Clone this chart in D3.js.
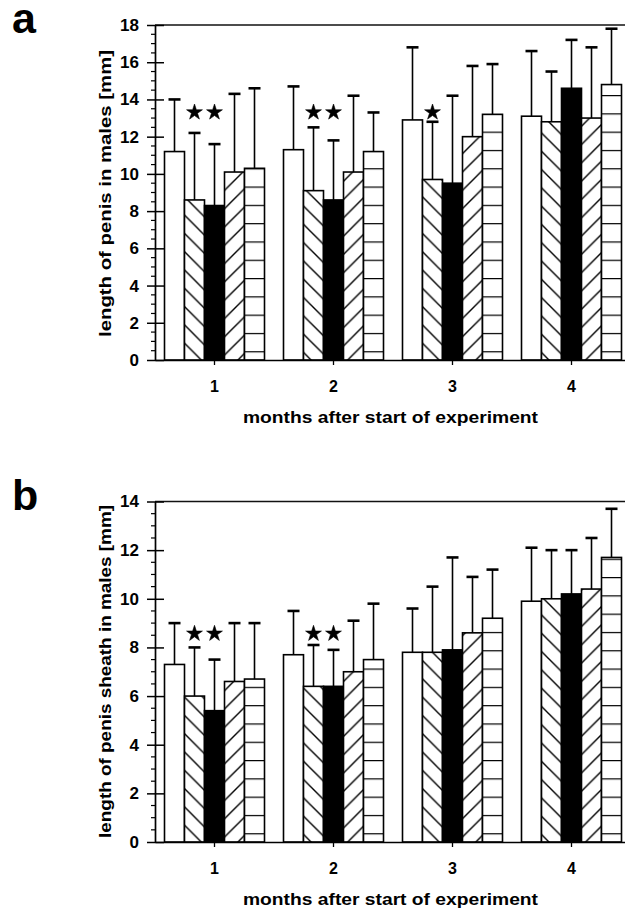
<!DOCTYPE html>
<html>
<head>
<meta charset="utf-8">
<script src="https://cdn.jsdelivr.net/npm/d3@7"></script>
<style>
  html, body { margin: 0; padding: 0; background: #fff; }
  svg { display: block; }
  text { font-family: "Liberation Sans", Arial, Helvetica, sans-serif; font-weight: bold; fill: #000; }
</style>
</head>
<body>
<svg id="chart" width="625" height="911"></svg>
<script>
// Months after start of experiment and the five treatment groups
const months = ["1", "2", "3", "4"];
const groups = ["A", "B", "C", "D", "E"];

// (a) penis length [mm]: group means and standard deviations per month
const penisMean = [
  [11.2, 8.6, 8.3, 10.1, 10.3],
  [11.3, 9.1, 8.6, 10.1, 11.2],
  [12.9, 9.7, 9.5, 12.0, 13.2],
  [13.1, 12.8, 14.6, 13.0, 14.8]
];
const penisSD = [
  [2.8, 3.6, 3.3, 4.2, 4.3],
  [3.4, 3.4, 3.2, 4.1, 2.1],
  [3.9, 3.1, 4.7, 3.8, 2.7],
  [3.5, 2.7, 2.6, 3.8, 3.0]
];
const penisTicks = [0, 2, 4, 6, 8, 10, 12, 14, 16, 18];
// significant differences (month, group) and the level the stars sit at
const penisStars = [["1", "B"], ["1", "C"], ["2", "B"], ["2", "C"], ["3", "B"]];
const penisStarLevel = 13.35;

// (b) penis sheath length [mm]
const sheathMean = [
  [7.3, 6.0, 5.4, 6.6, 6.7],
  [7.7, 6.4, 6.4, 7.0, 7.5],
  [7.8, 7.8, 7.9, 8.6, 9.2],
  [9.9, 10.0, 10.2, 10.4, 11.7]
];
const sheathSD = [
  [1.7, 2.0, 2.1, 2.4, 2.3],
  [1.8, 1.7, 1.5, 2.1, 2.3],
  [1.8, 2.7, 3.8, 2.3, 2.0],
  [2.2, 2.0, 1.8, 2.1, 2.0]
];
const sheathTicks = [0, 2, 4, 6, 8, 10, 12, 14];
const sheathStars = [["1", "B"], ["1", "C"], ["2", "B"], ["2", "C"]];
const sheathStarLevel = 8.6;

const svg = d3.select("#chart");
const defs = svg.append("defs");

// fill style for each group
const fillKind = { A: "white", B: "back", C: "black", D: "fwd", E: "horiz" };

function makePatterns(id, baseY) {
  const s = 18.3;
  const back = defs.append("pattern").attr("id", "back-" + id)
    .attr("patternUnits", "userSpaceOnUse").attr("width", s).attr("height", s)
    .attr("x", 0).attr("y", baseY % s);
  back.append("rect").attr("width", s).attr("height", s).attr("fill", "#fff");
  back.append("path")
    .attr("d", `M-1,-1L${s + 1},${s + 1}M-1,${s - 1}L1,${s + 1}M${s - 1},-1L${s + 1},1`)
    .attr("stroke", "#000").attr("stroke-width", 1.4);

  const fwd = defs.append("pattern").attr("id", "fwd-" + id)
    .attr("patternUnits", "userSpaceOnUse").attr("width", s).attr("height", s)
    .attr("x", 0).attr("y", baseY % s);
  fwd.append("rect").attr("width", s).attr("height", s).attr("fill", "#fff");
  fwd.append("path")
    .attr("d", `M-1,${s + 1}L${s + 1},-1M-1,1L1,-1M${s - 1},${s + 1}L${s + 1},${s - 1}`)
    .attr("stroke", "#000").attr("stroke-width", 1.4);

  const hz = defs.append("pattern").attr("id", "horiz-" + id)
    .attr("patternUnits", "userSpaceOnUse").attr("width", 40).attr("height", s)
    .attr("x", 0).attr("y", (baseY - 8.8) % s);
  hz.append("rect").attr("width", 40).attr("height", s).attr("fill", "#fff");
  hz.append("line").attr("x1", 0).attr("x2", 40).attr("y1", 0.6).attr("y2", 0.6)
    .attr("stroke", "#000").attr("stroke-width", 1.2);
}

function fillFor(g, id) {
  const k = fillKind[g];
  if (k === "white") return "#fff";
  if (k === "black") return "#000";
  return `url(#${k}-${id})`;
}

function drawPanel(cfg) {
  const { id, letter, letterY, top, bottom, max, ticks, mean, sd, stars, starLevel, ylabel, ylabelLen } = cfg;
  const left = 155, right = 631;
  makePatterns(id, bottom);

  const x0 = d3.scaleBand().domain(months).range([left, right]).padding(0);
  const x1 = d3.scaleBand().domain(groups).range([0, x0.bandwidth()])
    .paddingInner(0).paddingOuter(0.475);
  const y = d3.scaleLinear().domain([0, max]).range([bottom, top]);

  const g = svg.append("g");

  // panel letter
  g.append("text").attr("x", 12).attr("y", letterY)
    .style("font-size", "43px").text(letter);

  // top frame line
  g.append("line").attr("x1", left).attr("x2", right).attr("y1", y(max)).attr("y2", y(max))
    .attr("stroke", "#111").attr("stroke-width", 1.7);

  const rows = months.flatMap((m, i) => groups.map((gr, j) => ({
    m, gr, v: mean[i][j], e: sd[i][j]
  })));

  // bars
  g.append("g").selectAll("rect").data(rows).join("rect")
    .attr("x", d => x0(d.m) + x1(d.gr))
    .attr("y", d => y(d.v))
    .attr("width", x1.bandwidth())
    .attr("height", d => y(0) - y(d.v))
    .attr("fill", d => fillFor(d.gr, id))
    .attr("stroke", "#000").attr("stroke-width", 1.6);

  // error bars (upper half of mean ± SD)
  const eb = g.append("g").selectAll("g").data(rows).join("g")
    .attr("transform", d => `translate(${x0(d.m) + x1(d.gr) + x1.bandwidth() / 2},0)`);
  eb.append("line").attr("x1", 0).attr("x2", 0)
    .attr("y1", d => y(d.v)).attr("y2", d => y(d.v + d.e))
    .attr("stroke", "#000").attr("stroke-width", 1.6);
  eb.append("line").attr("x1", -6).attr("x2", 6)
    .attr("y1", d => y(d.v + d.e)).attr("y2", d => y(d.v + d.e))
    .attr("stroke", "#000").attr("stroke-width", 2.6);

  // significance stars
  const star = d3.symbol().type(d3.symbolStar).size(78);
  g.append("g").selectAll("path").data(stars).join("path")
    .attr("d", star)
    .attr("transform", d => `translate(${x0(d[0]) + x1(d[1]) + x1.bandwidth() / 2},${y(starLevel) + 0.8})`)
    .attr("fill", "#000").attr("stroke", "#000").attr("stroke-width", 0.6);

  // y axis: majors crossing the line, half-unit minors outside
  const minor = d3.range(0, max + 0.001, 0.5).filter(v => !ticks.includes(v));
  g.append("g").selectAll("line").data(minor).join("line")
    .attr("x1", left - 4).attr("x2", left).attr("y1", d => y(d)).attr("y2", d => y(d))
    .attr("stroke", "#000").attr("stroke-width", 1.2);
  const yAxis = g.append("g").attr("transform", `translate(${left},0)`)
    .call(d3.axisLeft(y).tickValues(ticks).tickSizeInner(8).tickSizeOuter(0).tickPadding(8).tickFormat(d3.format("d")));
  yAxis.select(".domain").attr("stroke", "#000").attr("stroke-width", 1.7);
  yAxis.selectAll(".tick line").attr("x2", 9).attr("x1", -8).attr("stroke", "#000").attr("stroke-width", 1.5);
  yAxis.selectAll(".tick text").attr("x", -16).style("font-size", "17px").attr("font-family", null);

  // x axis
  const xAxis = g.append("g").attr("transform", `translate(0,${bottom})`)
    .call(d3.axisBottom(x0).tickSizeInner(5).tickSizeOuter(0).tickPadding(16));
  xAxis.select(".domain").attr("stroke", "#000").attr("stroke-width", 1.7);
  xAxis.selectAll(".tick line").attr("stroke", "#000").attr("stroke-width", 1.3);
  xAxis.selectAll(".tick text").style("font-size", "16px").attr("font-family", null);

  // axis titles
  g.append("text").attr("x", 390.5).attr("y", bottom + 63)
    .attr("text-anchor", "middle").style("font-size", "17px")
    .attr("textLength", 295).attr("lengthAdjust", "spacingAndGlyphs")
    .text("months after start of experiment");
  const cy = cfg.ylabelCenter;
  g.append("text").attr("transform", `translate(111,${cy}) rotate(-90)`)
    .attr("text-anchor", "middle").style("font-size", "17px")
    .attr("textLength", ylabelLen).attr("lengthAdjust", "spacingAndGlyphs")
    .text(ylabel);
}

drawPanel({
  id: "a", letter: "a", letterY: 33, top: 25, bottom: 360, max: 18,
  ticks: penisTicks, mean: penisMean, sd: penisSD,
  stars: penisStars, starLevel: penisStarLevel,
  ylabel: "length of penis in males [mm]", ylabelLen: 287, ylabelCenter: 193.5
});

drawPanel({
  id: "b", letter: "b", letterY: 510, top: 501.5, bottom: 842, max: 14,
  ticks: sheathTicks, mean: sheathMean, sd: sheathSD,
  stars: sheathStars, starLevel: sheathStarLevel,
  ylabel: "length of penis sheath in males [mm]", ylabelLen: 333, ylabelCenter: 671.5
});
</script>
</body>
</html>
